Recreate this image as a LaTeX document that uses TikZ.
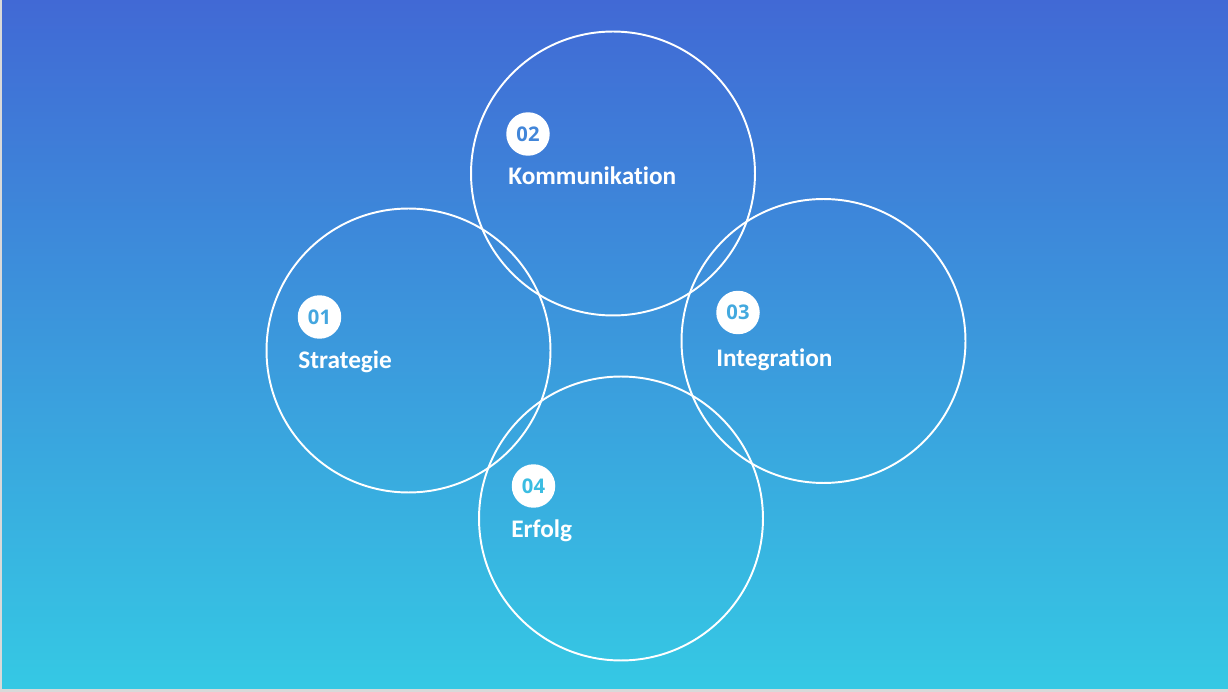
\documentclass[tikz,border=0pt]{standalone}
\usepackage{fontspec}
\setmainfont{Carlito}[Ligatures=NoCommon]
\newfontfamily\numfont{Open Sans}
\usepackage{tikz}
\usetikzlibrary{positioning}

\definecolor{bgtop}{HTML}{4169D5}
\definecolor{bgbottom}{HTML}{35C9E4}
\definecolor{edgegray}{HTML}{D9D9D9}
\definecolor{num1}{HTML}{44A6DF}
\definecolor{num2}{HTML}{4286D9}
\definecolor{num3}{HTML}{43A9DF}
\definecolor{num4}{HTML}{3BBDE2}

\begin{document}
\begin{tikzpicture}[x=0.02cm, y=-0.02cm,
    ring/.style={circle, draw=white, line width=1.1pt, minimum size=5.68cm, inner sep=0pt},
    badge/.style={circle, fill=white, minimum size=0.87cm, inner sep=0pt,
      font=\numfont\bfseries\fontsize{11.5}{13}\selectfont},
    label/.style={anchor=base west, text=white, inner sep=0pt,
      font=\bfseries\fontsize{14.4}{17}\selectfont}
  ]
  \useasboundingbox (0,0) rectangle (1228,692);
  % background
  \shade[top color=bgtop, bottom color=bgbottom] (0,0) rectangle (1228,692);
  \fill[edgegray] (0,0) rectangle (2,692);
  \fill[edgegray] (0,689) rectangle (1228,692);

  \node[ring] (strategie) at (408.5,350.5) {};
  \node[ring] (kommunikation) at (613,173.5) {};
  \node[ring] (integration) at (823.5,341) {};
  \node[ring] (erfolg) at (621,518.5) {};

  \node[badge, text=num1] (b1) at (319.5,317) {01};
  \node[label] (l1) at (298,369) {Strategie};
  \node[badge, text=num2] (b2) at (528,134) {02};
  \node[label] (l2) at (508,184.5) {Kommunikation};
  \node[badge, text=num3] (b3) at (738,312.5) {03};
  \node[label] (l3) at (716,367) {Integration};
  \node[badge, text=num4] (b4) at (533.5,486) {04};
  \node[label] (l4) at (511,538) {Erfolg};
\end{tikzpicture}
\end{document}
